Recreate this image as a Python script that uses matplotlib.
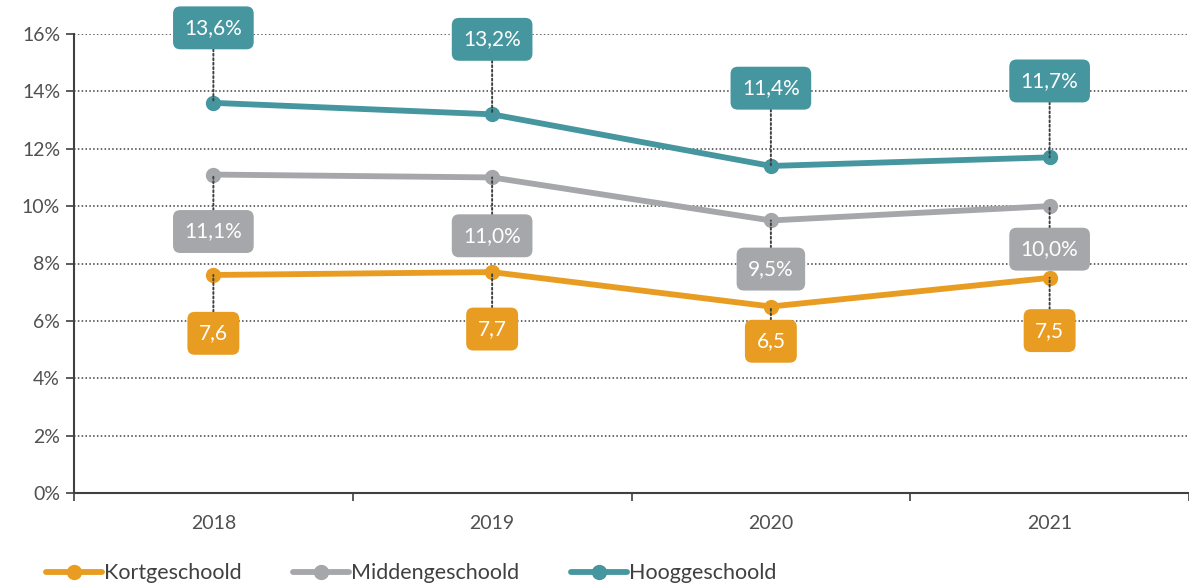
import matplotlib
matplotlib.use("Agg")
import matplotlib.pyplot as plt
from matplotlib.ticker import FixedLocator, FuncFormatter

plt.rcParams['font.family'] = ['Lato', 'DejaVu Sans']

years = ["2018", "2019", "2020", "2021"]
kort = [7.6, 7.7, 6.5, 7.5]
midden = [11.1, 11.0, 9.5, 10.0]
hoog = [13.6, 13.2, 11.4, 11.7]
kort_labels = ["7,6", "7,7", "6,5", "7,5"]
midden_labels = ["11,1%", "11,0%", "9,5%", "10,0%"]
hoog_labels = ["13,6%", "13,2%", "11,4%", "11,7%"]
series_names = ["Kortgeschoold", "Middengeschoold", "Hooggeschoold"]
yticks = [0, 2, 4, 6, 8, 10, 12, 14, 16]

C_KORT = "#E89D22"
C_MID = "#A5A7AA"
C_HOOG = "#45969F"

# label offsets in points (style/position); negative = below the point
kort_off = [-42, -41, -25, -38]
mid_off = [-41, -42, -35, -31]
hoog_off = [54, 54, 56, 55]

fig = plt.figure(figsize=(11.89, 5.85), dpi=100)
ax = fig.add_axes([74/1189, 1-493/585, 1-74/1189, (493-34)/585])

x = list(range(len(years)))
series = [(kort, kort_labels, kort_off, C_KORT),
          (midden, midden_labels, mid_off, C_MID),
          (hoog, hoog_labels, hoog_off, C_HOOG)]

for (vals, labs, offs, col), name in zip(series, series_names):
    ax.plot(x, vals, color=col, lw=4.2, marker='o', ms=10, label=name,
            solid_capstyle='round', zorder=3)
    for xi, v, lab, off in zip(x, vals, labs, offs):
        ax.annotate(lab, xy=(xi, v), xytext=(0, off), textcoords='offset points',
                    ha='center', va='center', fontsize=15, color='white',
                    bbox=dict(boxstyle='round,pad=0.55,rounding_size=0.35', fc=col, ec='none'),
                    arrowprops=dict(arrowstyle='-', linestyle=(0, (1, 1.3)), color='#404040',
                                    lw=1.4, shrinkA=0, shrinkB=0),
                    annotation_clip=False, zorder=4)

ax.set_ylim(0, 16)
ax.set_xlim(-0.5, 3.454)
ax.yaxis.set_major_locator(FixedLocator(yticks))
ax.yaxis.set_major_formatter(FuncFormatter(lambda v, p: f"{int(v)}%"))
ax.set_xticks(x)
ax.set_xticklabels(years)
ax.set_xticks([-0.5, 0.5, 1.5, 2.5, 3.5], minor=True)
ax.tick_params(axis='x', which='major', length=0, pad=16, labelsize=14, colors='#505050')
ax.tick_params(axis='x', which='minor', length=6, width=1.2, color='#404040', direction='out')
ax.tick_params(axis='y', which='major', length=6, width=1.2, color='#404040', labelsize=14,
               labelcolor='#505050', pad=4)

ax.grid(axis='y', linestyle=(0, (1, 1.5)), color='#404040', lw=1.1, zorder=0)
for s in ['top', 'right']:
    ax.spines[s].set_visible(False)
for s in ['left', 'bottom']:
    ax.spines[s].set_color('#404040')
    ax.spines[s].set_linewidth(1.5)

handles, labels = ax.get_legend_handles_labels()
fig.legend(handles, labels, loc='lower left', bbox_to_anchor=(0.022, -0.03), ncol=3,
           frameon=False, fontsize=15.5, handlelength=2.6, handletextpad=0.1,
           columnspacing=2.4, labelcolor='#404040')

fig.savefig("out.png", dpi=100)
